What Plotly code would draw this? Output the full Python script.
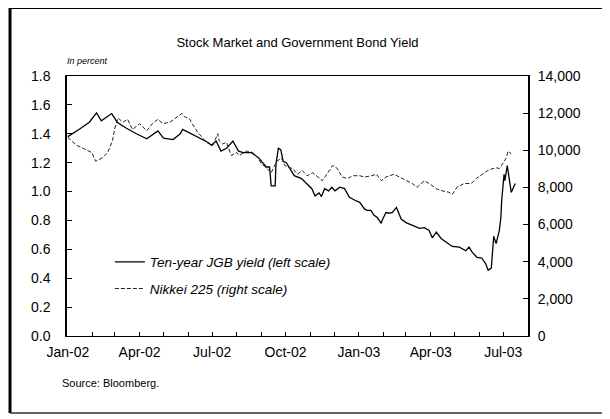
import plotly.graph_objects as go

# ---- Data ----
jgb_dates = [
    "2002-01-01", "2002-01-07", "2002-01-15", "2002-01-28", "2002-02-06", "2002-02-12",
    "2002-02-25", "2002-03-04", "2002-03-15", "2002-03-28", "2002-04-10", "2002-04-24",
    "2002-05-01", "2002-05-13", "2002-05-22", "2002-05-25", "2002-06-01", "2002-06-08",
    "2002-06-17", "2002-06-26", "2002-06-30", "2002-07-06", "2002-07-12", "2002-07-19",
    "2002-07-27", "2002-08-03", "2002-08-09", "2002-08-19", "2002-08-28", "2002-09-03",
    "2002-09-07", "2002-09-11", "2002-09-13", "2002-09-18", "2002-09-19", "2002-09-22",
    "2002-09-25", "2002-09-28", "2002-10-02", "2002-10-08", "2002-10-12", "2002-10-21",
    "2002-10-27", "2002-11-03", "2002-11-07", "2002-11-12", "2002-11-15", "2002-11-19",
    "2002-11-24", "2002-11-28", "2002-12-02", "2002-12-08", "2002-12-14", "2002-12-20",
    "2002-12-27", "2003-01-02", "2003-01-08", "2003-01-11", "2003-01-16", "2003-01-20",
    "2003-01-24", "2003-01-29", "2003-01-30", "2003-02-04", "2003-02-08", "2003-02-12",
    "2003-02-17", "2003-02-23", "2003-03-01", "2003-03-09", "2003-03-18", "2003-03-24",
    "2003-03-30", "2003-04-03", "2003-04-08", "2003-04-14", "2003-04-20", "2003-04-28",
    "2003-05-07", "2003-05-15", "2003-05-19", "2003-05-23", "2003-05-29", "2003-06-04",
    "2003-06-09", "2003-06-12", "2003-06-16", "2003-06-17", "2003-06-19", "2003-06-22",
    "2003-06-23", "2003-06-26", "2003-06-28", "2003-06-29", "2003-07-02", "2003-07-03",
    "2003-07-06", "2003-07-08", "2003-07-11", "2003-07-12", "2003-07-16",
]
jgb_yield = [
    1.38, 1.40, 1.43, 1.48, 1.545, 1.49,
    1.54, 1.48, 1.44, 1.40, 1.365, 1.42,
    1.37, 1.36, 1.40, 1.43, 1.41, 1.39,
    1.37, 1.34, 1.32, 1.35, 1.28, 1.30,
    1.35, 1.28, 1.27, 1.27, 1.235, 1.20,
    1.17, 1.17, 1.04, 1.04, 1.19, 1.30,
    1.29, 1.21, 1.20, 1.145, 1.11, 1.09,
    1.06, 1.02, 0.97, 0.99, 0.965, 1.02,
    1.005, 1.03, 1.005, 1.03, 1.02, 0.96,
    0.94, 0.925, 0.88, 0.87, 0.87, 0.835,
    0.82, 0.78, 0.80, 0.855, 0.85, 0.855,
    0.89, 0.81, 0.785, 0.765, 0.745, 0.75,
    0.73, 0.68, 0.72, 0.675, 0.65, 0.62,
    0.615, 0.59, 0.615, 0.58, 0.545, 0.54,
    0.50, 0.455, 0.47, 0.545, 0.69, 0.64,
    0.66, 0.73, 0.82, 0.94, 1.12, 1.075,
    1.18, 1.11, 0.995, 1.005, 1.055,
]

nikkei_dates = [
    "2002-01-01", "2002-01-12", "2002-01-20", "2002-01-31", "2002-02-05", "2002-02-14",
    "2002-02-20", "2002-02-26", "2002-03-01", "2002-03-05", "2002-03-11", "2002-03-17",
    "2002-03-23", "2002-04-01", "2002-04-10", "2002-04-17", "2002-04-24", "2002-04-30",
    "2002-05-09", "2002-05-17", "2002-05-24", "2002-05-27", "2002-06-03", "2002-06-06",
    "2002-06-11", "2002-06-13", "2002-06-24", "2002-07-02", "2002-07-08", "2002-07-10",
    "2002-07-14", "2002-07-19", "2002-07-25", "2002-08-01", "2002-08-04", "2002-08-13",
    "2002-08-21", "2002-08-27", "2002-09-01", "2002-09-07", "2002-09-13", "2002-09-20",
    "2002-09-26", "2002-09-30", "2002-10-06", "2002-10-10", "2002-10-16", "2002-10-22",
    "2002-10-28", "2002-11-04", "2002-11-13", "2002-11-16", "2002-11-23", "2002-11-29",
    "2002-12-05", "2002-12-11", "2002-12-18", "2002-12-24", "2003-01-02", "2003-01-08",
    "2003-01-17", "2003-01-23", "2003-01-29", "2003-02-04", "2003-02-14", "2003-02-21",
    "2003-03-01", "2003-03-09", "2003-03-15", "2003-03-24", "2003-03-30", "2003-04-08",
    "2003-04-15", "2003-04-24", "2003-04-28", "2003-05-04", "2003-05-13", "2003-05-22",
    "2003-05-28", "2003-06-05", "2003-06-13", "2003-06-22", "2003-06-26", "2003-06-30",
    "2003-07-05", "2003-07-07", "2003-07-11",
]
nikkei_225 = [
    10700, 10270, 10110, 9880, 9410, 9610,
    9880, 10500, 11200, 11740, 11510, 11670,
    11120, 11430, 11050, 11430, 11670, 11430,
    11510, 11740, 11980, 11820, 11670, 11430,
    11120, 10970, 10420, 10270, 10890, 10500,
    10340, 10420, 9720, 9880, 9720, 9960,
    9880, 9610, 9260, 9060, 8790, 9410,
    9570, 9180, 9060, 9020, 8710, 8910,
    8630, 8790, 8480, 8360, 8790, 9180,
    9020, 8560, 8480, 8630, 8630, 8560,
    8630, 8710, 8360, 8560, 8710, 8560,
    8400, 8210, 8010, 8360, 8210, 7930,
    7820, 7740, 7620, 8010, 8210, 8210,
    8480, 8710, 8950, 9060, 9020, 9260,
    9610, 9960, 9800,
]

left_tickvals = [0.0, 0.2, 0.4, 0.6, 0.8, 1.0, 1.2, 1.4, 1.6, 1.8]
left_ticktext = ["0.0", "0.2", "0.4", "0.6", "0.8", "1.0", "1.2", "1.4", "1.6", "1.8"]
right_tickvals = [0, 2000, 4000, 6000, 8000, 10000, 12000, 14000]
right_ticktext = ["0", "2,000", "4,000", "6,000", "8,000", "10,000", "12,000", "14,000"]
x_tickvals = ["2002-01-01", "2002-04-01", "2002-07-01", "2002-10-01",
              "2003-01-01", "2003-04-01", "2003-07-01"]
x_ticktext = ["Jan-02", "Apr-02", "Jul-02", "Oct-02", "Jan-03", "Apr-03", "Jul-03"]

FONT = "Arial, 'Liberation Sans', sans-serif"

fig = go.Figure()
fig.add_trace(go.Scatter(
    x=jgb_dates, y=jgb_yield, mode="lines",
    name="<i>Ten-year JGB yield (left scale)</i>",
    line=dict(color="black", width=1.3),
    legendgroup="a",
))
fig.add_trace(go.Scatter(
    x=nikkei_dates, y=nikkei_225, mode="lines", yaxis="y2",
    name="<i>Nikkei 225 (right scale)</i>",
    line=dict(color="#222222", width=1, dash="4px,2px"),
    legendgroup="b",
))

# outer frame (paper coordinates relative to the plot area)
frame = dict(xref="paper", yref="paper", layer="above")
shapes = [
    dict(type="line", x0=-0.1236, x1=1.169, y0=1.2615, y1=1.2615,
         line=dict(color="black", width=2), **frame),
    dict(type="line", x0=-0.1236, x1=-0.1236, y0=1.2615, y1=-0.296,
         line=dict(color="black", width=3), **frame),
    dict(type="line", x0=1.169, x1=1.169, y0=1.2615, y1=-0.296,
         line=dict(color="#555555", width=1), **frame),
    dict(type="line", x0=-0.1236, x1=1.169, y0=-0.296, y1=-0.296,
         line=dict(color="#333333", width=1.5), **frame),
]

fig.update_layout(
    width=602, height=411,
    margin=dict(l=59, r=82, t=68, b=83),
    paper_bgcolor="white", plot_bgcolor="white",
    font=dict(family=FONT, size=12, color="black"),
    showlegend=True,
    legend=dict(
        x=0.093, y=0.232, xanchor="left", yanchor="middle",
        bgcolor="rgba(0,0,0,0)", borderwidth=0,
        font=dict(family=FONT, size=13.5, color="black"),
        tracegroupgap=6, traceorder="grouped",
    ),
    title=dict(
        text="Stock Market and Government Bond Yield",
        x=0.5, xref="paper", xanchor="center",
        y=0.917, yref="container", yanchor="middle",
        font=dict(family=FONT, size=13, color="black"),
    ),
    xaxis=dict(
        type="date", range=["2001-12-31", "2003-08-01"],
        tickvals=x_tickvals, ticktext=x_ticktext,
        ticks="inside", ticklen=4, tickcolor="black",
        minor=dict(dtick="M1", tick0="2002-01-01", ticks="inside", ticklen=4,
                   tickcolor="black", showgrid=False),
        showline=True, linecolor="black", linewidth=1.2, mirror=True,
        showgrid=False, zeroline=False,
        tickfont=dict(family=FONT, size=14),
        ticklabelstandoff=3,
    ),
    yaxis=dict(
        range=[0, 1.8], tickvals=left_tickvals, ticktext=left_ticktext,
        ticks="inside", ticklen=5, tickcolor="black",
        showline=True, linecolor="black", linewidth=1.5, mirror=True,
        showgrid=False, zeroline=False,
        tickfont=dict(family=FONT, size=14),
        ticklabelstandoff=12,
    ),
    yaxis2=dict(
        range=[0, 14000], tickvals=right_tickvals, ticktext=right_ticktext,
        overlaying="y", side="right",
        ticks="inside", ticklen=5, tickcolor="black",
        showline=True, linecolor="black", linewidth=1,
        showgrid=False, zeroline=False,
        tickfont=dict(family=FONT, size=14),
        ticklabelstandoff=6,
    ),
    shapes=shapes,
    annotations=[
        dict(text="<i>In percent</i>", xref="paper", yref="paper",
             x=-0.005, y=1.03, xanchor="left", yanchor="bottom",
             showarrow=False, font=dict(family=FONT, size=9)),
        dict(text="Source: Bloomberg.", xref="paper", yref="paper",
             x=-0.015, y=-0.18, xanchor="left", yanchor="middle",
             showarrow=False, font=dict(family=FONT, size=11)),
    ],
)

fig.write_html("out.html")
